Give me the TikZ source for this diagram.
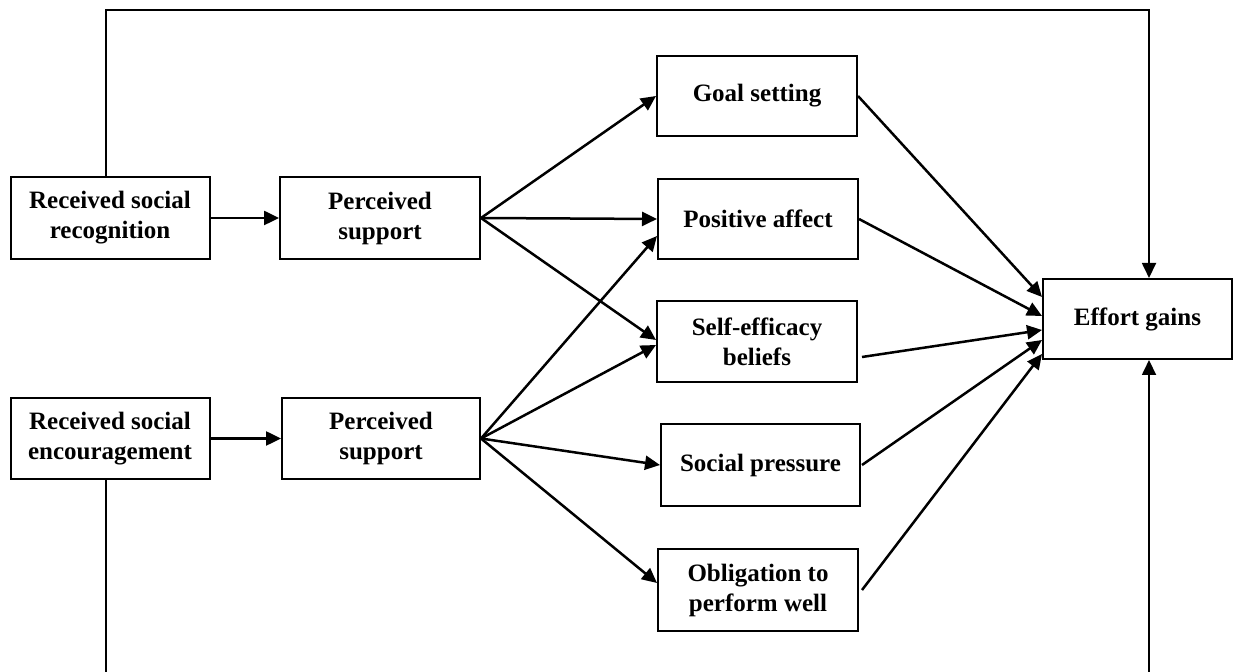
\documentclass[tikz,border=0pt]{standalone}
\usepackage{fontspec}
\setmainfont{Liberation Serif}
\usetikzlibrary{arrows.meta,calc}
\begin{document}
\begin{tikzpicture}[x=0.5pt,y=-0.5pt,
  box/.style={draw,line width=1pt,inner sep=0pt,align=center,
    font=\fontsize{12.5pt}{15pt}\selectfont\bfseries},
  arr/.style={line width=1.25pt,-{Triangle[length=7.5pt,width=7pt]}},
  loopline/.style={line width=0.9pt,-{Triangle[length=7.5pt,width=7pt]}}]
\useasboundingbox (0,0) rectangle (1240,672);
\clip (0,0) rectangle (1240,672);
\node[box,minimum width=99.5pt,minimum height=41pt] (rsr) at (110,218) {Received social\\recognition};
\node[box,minimum width=100pt,minimum height=41pt] (ps1) at (380,218) {Perceived\\support};
\node[box,minimum width=99.5pt,minimum height=40.5pt] (rse) at (110,438.5) {Received social\\encouragement};
\node[box,minimum width=99pt,minimum height=40.5pt] (ps2) at (381,438.5) {Perceived\\support};
\node[box,minimum width=100pt,minimum height=40pt] (goal) at (757,96) {Goal setting};
\node[box,minimum width=100pt,minimum height=40pt] (pos) at (758,219) {Positive affect};
\node[box,minimum width=100pt,minimum height=40.5pt] (self) at (757,342) {Self-efficacy\\beliefs};
\node[box,minimum width=99.5pt,minimum height=41pt] (soc) at (760.5,465) {Social pressure};
\node[box,minimum width=100pt,minimum height=41pt] (obl) at (758,590) {Obligation to\\perform well};
\node[box,minimum width=94.5pt,minimum height=40pt] (eff) at (1137.5,319) {Effort gains};
% left arrows
\draw[arr] (rsr.east) -- (ps1.west);
\draw[arr] (rse.east) -- (ps2.west);
% from perceived support (top)
\draw[arr] (ps1.east) -- (goal.west);
\draw[arr] (ps1.east) -- (pos.west);
\draw[arr] (ps1.east) -- ([yshift=1pt]self.west);
% from perceived support (bottom)
\draw[arr] (ps2.east) -- ([yshift=-8.5pt]pos.west);
\draw[arr] (ps2.east) -- ([yshift=-1.5pt]self.west);
\draw[arr] (ps2.east) -- (soc.west);
\draw[arr] (ps2.east) -- ([yshift=3.5pt]obl.west);
% to effort gains
\draw[arr] (goal.east) -- ([yshift=11pt]eff.west);
\draw[arr] (pos.east) -- ([yshift=1.5pt]eff.west);
\draw[arr] ([xshift=2pt,yshift=-7.5pt]self.east) -- ([yshift=-5.5pt]eff.west);
\draw[arr] ([xshift=0.5pt]soc.east) -- ([yshift=-10.5pt]eff.west);
\draw[arr] ([xshift=1.5pt]obl.east) -- ([yshift=-17.5pt]eff.west);
% loops
\coordinate (tl) at (106,10);
\coordinate (tr) at (1149,10);
\coordinate (bl) at (106,700);
\coordinate (br) at (1149,700);
\draw[loopline] ([xshift=-2pt]rsr.north) -- (tl) -- (tr) -- ([xshift=5.75pt]eff.north);
\draw[loopline] ([xshift=-2pt]rse.south) -- (bl) -- (br) -- ([xshift=5.75pt]eff.south);
\end{tikzpicture}
\end{document}
